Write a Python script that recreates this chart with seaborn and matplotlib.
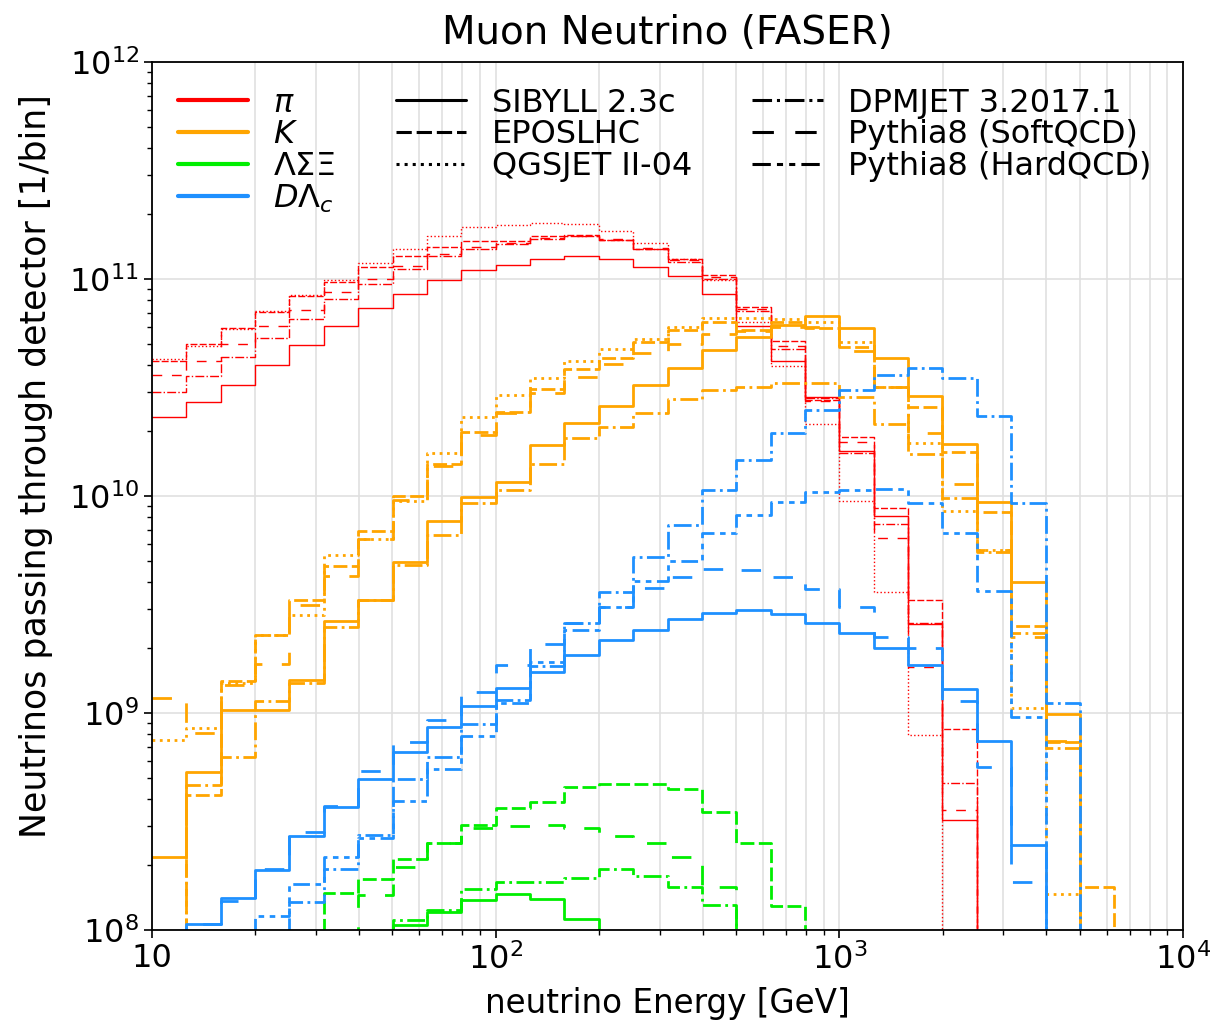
import numpy as np
import pandas as pd
import matplotlib
matplotlib.use("Agg")
import matplotlib.pyplot as plt
import seaborn as sns
from matplotlib.lines import Line2D
from matplotlib.ticker import FuncFormatter, LogLocator, NullFormatter

sns.set_style("ticks")
plt.rcParams["font.family"] = ["DejaVu Sans"]
plt.rcParams["mathtext.fontset"] = "dejavusans"
for key in ["text.color", "axes.labelcolor", "xtick.color", "ytick.color", "axes.edgecolor"]:
    plt.rcParams[key] = "black"

# ten logarithmic bins per decade, 10 GeV .. 10 TeV
bin_edges = np.logspace(1, 4, 31)

# neutrinos per bin, listed from the lowest-energy bin; trailing empty bins omitted
pi_sibyll = [2.32e10, 2.70e10, 3.25e10, 4.02e10, 4.98e10, 6.10e10, 7.38e10, 8.55e10, 9.86e10, 1.10e11,
             1.16e11, 1.23e11, 1.27e11, 1.23e11, 1.13e11, 1.03e11, 8.51e10, 6.07e10, 4.19e10, 2.87e10,
             1.61e10, 8.09e9, 2.56e9, 3.21e8]
pi_epos = [4.17e10, 5.01e10, 5.96e10, 7.06e10, 8.37e10, 9.73e10, 1.13e11, 1.27e11, 1.41e11, 1.50e11,
           1.50e11, 1.57e11, 1.59e11, 1.52e11, 1.38e11, 1.24e11, 1.04e11, 7.45e10, 5.20e10, 2.77e10,
           1.87e10, 8.83e9, 3.32e9, 8.43e8]
pi_qgsjet = [4.27e10, 4.93e10, 5.86e10, 7.11e10, 8.43e10, 9.89e10, 1.18e11, 1.38e11, 1.58e11, 1.73e11,
             1.77e11, 1.81e11, 1.79e11, 1.67e11, 1.46e11, 1.23e11, 9.89e10, 6.31e10, 3.98e10, 2.15e10,
             9.51e9, 3.60e9, 7.93e8]
pi_dpmjet = [3.03e10, 3.57e10, 4.39e10, 5.33e10, 6.52e10, 8.05e10, 9.48e10, 1.11e11, 1.27e11, 1.38e11,
             1.45e11, 1.53e11, 1.57e11, 1.51e11, 1.37e11, 1.20e11, 1.00e11, 7.13e10, 4.75e10, 2.82e10,
             1.58e10, 7.41e9, 2.61e9, 4.74e8]
pi_pythia_soft = [3.61e10, 4.20e10, 5.00e10, 6.10e10, 7.19e10, 8.69e10, 1.00e11, 1.15e11, 1.30e11, 1.41e11,
                  1.47e11, 1.54e11, 1.57e11, 1.53e11, 1.39e11, 1.22e11, 1.02e11, 7.24e10, 4.90e10, 2.75e10,
                  1.78e10, 6.38e9, 1.63e9, 3.57e8]

k_sibyll = [2.18e8, 5.37e8, 1.03e9, 1.03e9, 1.42e9, 2.65e9, 3.32e9, 4.94e9, 7.67e9, 9.93e9,
            1.16e10, 1.71e10, 2.16e10, 2.61e10, 3.24e10, 3.88e10, 4.71e10, 5.38e10, 6.14e10, 6.78e10,
            5.93e10, 4.31e10, 2.90e10, 1.74e10, 9.38e9, 4.03e9, 9.86e8]
k_epos = [0, 4.17e8, 1.41e9, 2.29e9, 3.31e9, 4.75e9, 6.90e9, 1.00e10, 1.40e10, 1.98e10,
          2.45e10, 3.10e10, 3.84e10, 4.31e10, 5.14e10, 5.82e10, 6.37e10, 5.82e10, 6.37e10, 5.93e10,
          4.88e10, 3.19e10, 2.58e10, 1.59e10, 8.47e9, 2.51e9, 7.33e8, 1.57e8]
k_qgsjet = [7.52e8, 8.55e8, 1.38e9, 2.29e9, 2.83e9, 5.35e9, 6.31e9, 9.48e9, 1.57e10, 2.32e10,
            2.92e10, 3.48e10, 4.19e10, 4.75e10, 5.30e10, 6.03e10, 6.58e10, 6.58e10, 6.53e10, 6.31e10,
            5.14e10, 3.19e10, 1.76e10, 8.57e9, 5.62e9, 1.05e9, 1.46e8]
k_dpmjet = [0, 4.66e8, 6.25e8, 1.13e9, 1.38e9, 2.48e9, 3.31e9, 4.79e9, 6.61e9, 9.25e9,
            1.07e10, 1.40e10, 1.85e10, 2.07e10, 2.42e10, 2.79e10, 3.08e10, 3.19e10, 3.33e10, 3.33e10,
            2.85e10, 2.15e10, 1.56e10, 9.75e9, 5.50e9, 2.34e9, 6.87e8]
k_pythia_soft = [1.17e9, 8.05e8, 1.35e9, 1.69e9, 3.16e9, 4.28e9, 6.34e9, 9.55e9, 1.38e10, 1.91e10,
                 2.40e10, 2.97e10, 3.55e10, 4.06e10, 4.57e10, 5.01e10, 5.56e10, 5.75e10, 6.03e10, 6.03e10,
                 4.68e10, 3.19e10, 1.96e10, 1.14e10, 5.64e9, 2.24e9, 7.41e8]

hyp_sibyll = [0, 0, 0, 0, 0, 0, 0, 1.05e8, 1.21e8, 1.37e8, 1.47e8, 1.39e8, 1.12e8]
hyp_epos = [0, 0, 0, 0, 0, 1.48e8, 1.71e8, 2.12e8, 2.52e8, 3.05e8,
            3.64e8, 3.91e8, 4.56e8, 4.70e8, 4.70e8, 4.46e8, 3.51e8, 2.51e8, 1.29e8]
hyp_dpmjet = [0, 0, 0, 0, 0, 0, 0, 1.11e8, 1.24e8, 1.55e8,
              1.67e8, 1.66e8, 1.73e8, 1.91e8, 1.77e8, 1.57e8, 1.31e8]
hyp_pythia_soft = [0, 0, 0, 0, 0, 0, 1.45e8, 1.96e8, 2.51e8, 2.94e8,
                   3.03e8, 3.05e8, 2.96e8, 2.71e8, 2.51e8, 2.18e8, 1.58e8]

charm_sibyll = [0, 1.07e8, 1.40e8, 1.89e8, 2.71e8, 3.68e8, 4.97e8, 6.64e8, 8.65e8, 1.08e9,
                1.30e9, 1.55e9, 1.85e9, 2.18e9, 2.41e9, 2.71e9, 2.90e9, 2.99e9, 2.86e9, 2.61e9,
                2.34e9, 1.99e9, 1.67e9, 1.29e9, 7.43e8, 2.47e8]
charm_dpmjet = [0, 0, 0, 0, 1.35e8, 1.92e8, 2.74e8, 4.94e8, 6.25e8, 8.89e8,
                1.15e9, 1.65e9, 2.61e9, 3.62e9, 5.21e9, 7.35e9, 1.07e10, 1.46e10, 1.95e10, 2.49e10,
                3.08e10, 3.61e10, 3.88e10, 3.48e10, 2.34e10, 9.29e9, 1.11e9]
charm_pythia_soft = [0, 1.07e8, 1.36e8, 1.91e8, 2.84e8, 3.72e8, 5.42e8, 7.33e8, 9.29e8, 1.25e9,
                     1.66e9, 2.08e9, 2.61e9, 3.09e9, 3.76e9, 4.22e9, 4.60e9, 4.56e9, 4.22e9, 3.72e9,
                     3.09e9, 2.25e9, 2.00e9, 1.13e9, 5.66e8, 1.66e8]
charm_pythia_hard = [0, 0, 0, 1.16e8, 1.63e8, 2.18e8, 2.65e8, 3.94e8, 5.50e8, 7.83e8,
                     1.11e9, 1.71e9, 2.40e9, 3.09e9, 4.06e9, 5.04e9, 6.73e9, 8.17e9, 9.42e9, 1.04e10,
                     1.07e10, 1.08e10, 9.25e9, 6.78e9, 3.65e9, 9.62e8]

particle_labels = [r"$\pi$", r"$K$", r"$\Lambda\Sigma\Xi$", r"$D\Lambda_c$"]
particle_colors = ["#ff0000", "#ffa500", "#00ee00", "#1e90ff"]
generator_labels = ["SIBYLL 2.3c", "EPOSLHC", "QGSJET II-04", "DPMJET 3.2017.1",
                    "Pythia8 (SoftQCD)", "Pythia8 (HardQCD)"]
generator_styles = ["-", (0, (5, 1.6)), (0, (1, 1.65)), (0, (6.4, 1.6, 1, 1.6)),
                    (0, (7, 7)), (0, (6, 2, 2, 2, 2, 2))]

series = [
    (0, 0, pi_sibyll), (0, 1, pi_epos), (0, 2, pi_qgsjet), (0, 3, pi_dpmjet), (0, 4, pi_pythia_soft),
    (1, 0, k_sibyll), (1, 1, k_epos), (1, 2, k_qgsjet), (1, 3, k_dpmjet), (1, 4, k_pythia_soft),
    (2, 0, hyp_sibyll), (2, 1, hyp_epos), (2, 3, hyp_dpmjet), (2, 4, hyp_pythia_soft),
    (3, 0, charm_sibyll), (3, 3, charm_dpmjet), (3, 4, charm_pythia_soft), (3, 5, charm_pythia_hard),
]

fig = plt.figure(figsize=(12.12, 10.23), dpi=100)
ax = fig.add_axes([0.1254, 0.0909, 0.8507, 0.8485])

floor = 1e6  # empty bins are drawn below the visible range
for p, g, counts in series:
    vals = np.zeros(len(bin_edges) - 1)
    vals[:len(counts)] = counts
    shown = np.where(vals > 0, vals, floor)
    df = pd.DataFrame({"E": bin_edges, "N": np.append(shown, floor)})
    sns.lineplot(data=df, x="E", y="N", ax=ax, color=particle_colors[p],
                 linestyle=generator_styles[g], linewidth=1.0 if p == 0 else 2.0,
                 drawstyle="steps-post", estimator=None, legend=False)

ax.set_xscale("log")
ax.set_yscale("log")
ax.set_xlim(10, 1e4)
ax.set_ylim(1e8, 1e12)

ax.xaxis.set_major_formatter(FuncFormatter(
    lambda v, _: "10" if np.isclose(v, 10) else r"$10^{%d}$" % round(np.log10(v))))
ax.xaxis.set_minor_formatter(NullFormatter())
ax.yaxis.set_major_locator(LogLocator(base=10, numticks=10))
ax.yaxis.set_minor_locator(LogLocator(base=10, subs=np.arange(2, 10), numticks=20))
ax.yaxis.set_minor_formatter(NullFormatter())
ax.tick_params(axis="both", which="major", labelsize=23, length=6, width=1.2)
ax.tick_params(axis="both", which="minor", length=3.5, width=1.0)

ax.set_axisbelow(True)
ax.grid(True, which="major", axis="both", color="#e0e0e0", linewidth=1.2)
ax.grid(True, which="minor", axis="x", color="#e0e0e0", linewidth=1.2)
for s in ax.spines.values():
    s.set_linewidth(1.3)
    s.set_color("black")

ax.set_title("Muon Neutrino (FASER)", fontsize=28, pad=13)
ax.set_xlabel("neutrino Energy [GeV]", fontsize=23.5, labelpad=8)
ax.set_ylabel("Neutrinos passing through detector [1/bin]", fontsize=25)
ax.yaxis.set_label_coords(-0.096, 0.535)

handles = [Line2D([], [], color=c, lw=3.0) for c in particle_colors]
handles += [Line2D([], [], color="black", lw=2.2, linestyle=st) for st in generator_styles]
labels = particle_labels + generator_labels
ax.legend(handles, labels, ncol=3, loc="upper left", frameon=False, fontsize=23,
          handlelength=2.2, handletextpad=0.8, columnspacing=1.9, labelspacing=0.02,
          borderaxespad=0.4)

fig.savefig("out.png", dpi=100)
